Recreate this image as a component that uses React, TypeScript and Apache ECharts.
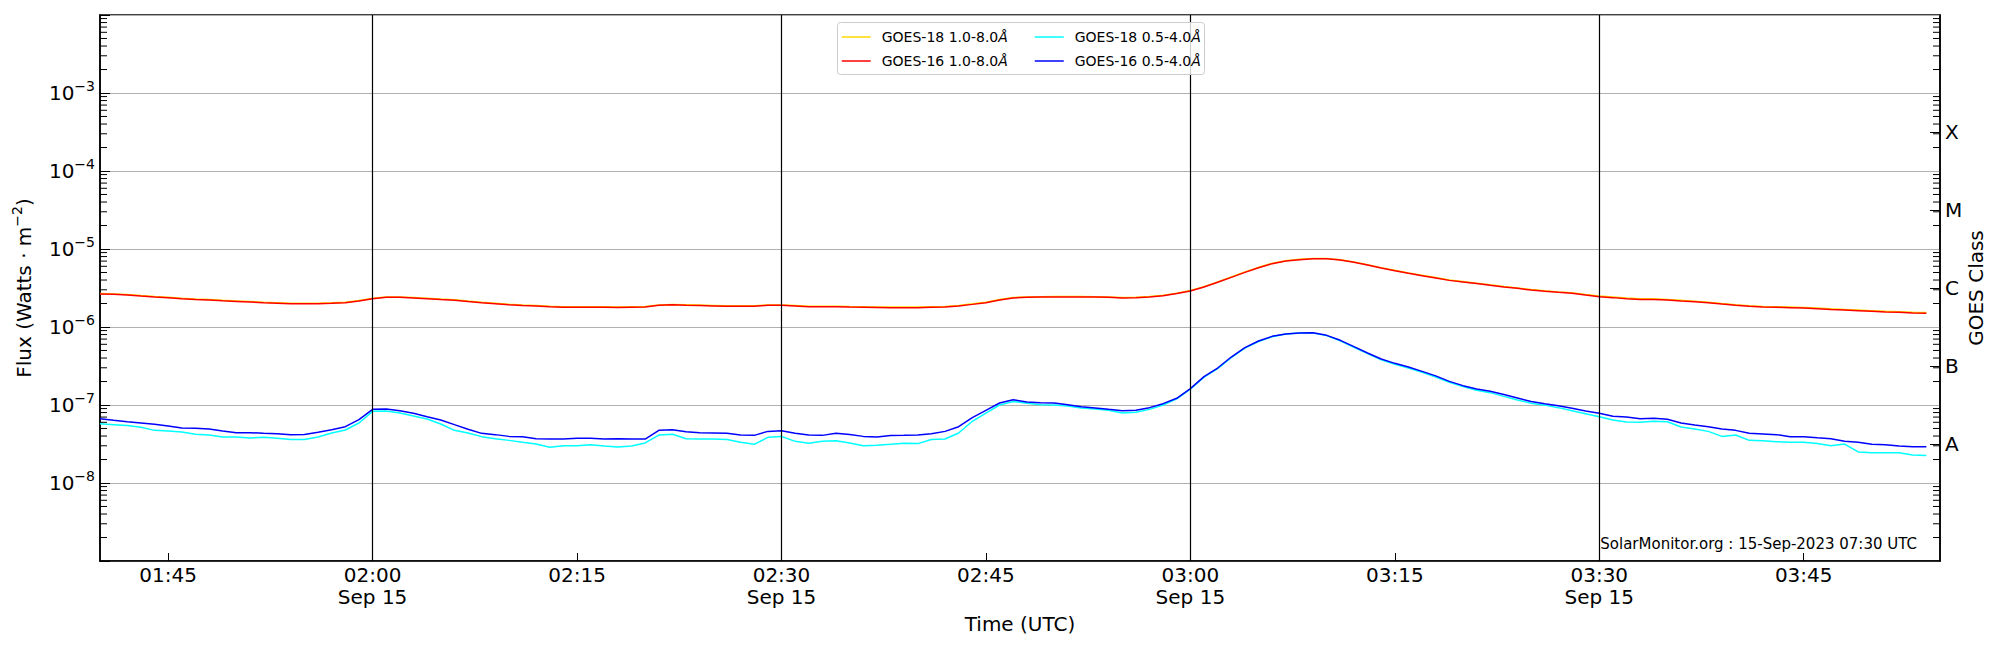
import React, { useEffect, useRef } from "react";
import * as echarts from "echarts";

const FONT = "DejaVu Sans";
const START_MINUTE = 100; // 01:40 UTC
const END_MINUTE = 235; // 03:55 UTC
const DATE_LABEL = "Sep 15";
const FOOTER_TEXT = "SolarMonitor.org : 15-Sep-2023 07:30 UTC";

const pad = (n: number) => String(n).padStart(2, "0");
const TIME_CATEGORIES: string[] = [];
for (let m = START_MINUTE; m <= END_MINUTE; m++) {
  TIME_CATEGORIES.push(`${pad(Math.floor(m / 60))}:${pad(m % 60)}`);
}

const VERTICAL_LINE_TIMES = ["02:00", "02:30", "03:00", "03:30"];
const Y_LABEL_EXPONENTS = [-8, -7, -6, -5, -4, -3];
const MINOR_MULTIPLIERS = [2, 3, 4, 5, 6, 7, 8, 9];
const MINOR_DECADES = [-9, -8, -7, -6, -5, -4, -3];
const CLASS_POSITIONS = ["-9", "-8.5", "-8", "-7.5", "-7", "-6.5", "-6", "-5.5", "-5", "-4.5", "-4", "-3.5", "-3", "-2.5", "-2"];
const CLASS_LABELS: Record<string, string> = { "-7.5": "A", "-6.5": "B", "-5.5": "C", "-4.5": "M", "-3.5": "X" };

const NAME_G18_LONG = "GOES-18 1.0-8.0Å";
const NAME_G16_LONG = "GOES-16 1.0-8.0Å";
const NAME_G18_SHORT = "GOES-18 0.5-4.0Å";
const NAME_G16_SHORT = "GOES-16 0.5-4.0Å";

const LONG_UNIT = 1e-6;
const SHORT_UNIT = 1e-8;

// one value per minute from 01:40 to 03:54, in units of 1e-6 W/m^2
const GOES18_LONG = [
  2.69, 2.65, 2.61, 2.53, 2.46, 2.40, 2.34, 2.29, 2.25, 2.20,
  2.16, 2.12, 2.08, 2.05, 2.02, 2.02, 2.02, 2.04, 2.08, 2.19,
  2.34, 2.43, 2.43, 2.39, 2.34, 2.28, 2.23, 2.15, 2.08, 2.02,
  1.96, 1.92, 1.89, 1.85, 1.82, 1.82, 1.82, 1.82, 1.81, 1.82,
  1.83, 1.92, 1.95, 1.93, 1.91, 1.89, 1.87, 1.87, 1.87, 1.92,
  1.92, 1.89, 1.85, 1.85, 1.85, 1.83, 1.82, 1.81, 1.80, 1.80,
  1.80, 1.82, 1.83, 1.89, 1.98, 2.08, 2.25, 2.39, 2.43, 2.45,
  2.46, 2.46, 2.46, 2.45, 2.43, 2.39, 2.40, 2.46, 2.55, 2.71,
  2.93, 3.29, 3.78, 4.38, 5.07, 5.82, 6.55, 7.09, 7.37, 7.58,
  7.58, 7.30, 6.82, 6.30, 5.77, 5.33, 4.94, 4.61, 4.30, 4.01,
  3.83, 3.65, 3.47, 3.31, 3.17, 3.02, 2.91, 2.82, 2.74, 2.61,
  2.49, 2.42, 2.35, 2.30, 2.30, 2.26, 2.20, 2.14, 2.08, 2.00,
  1.93, 1.87, 1.83, 1.82, 1.80, 1.78, 1.75, 1.71, 1.68, 1.65,
  1.62, 1.59, 1.57, 1.54, 1.53,
];

const GOES16_LONG = [
  2.65, 2.62, 2.58, 2.50, 2.43, 2.37, 2.31, 2.26, 2.22, 2.17,
  2.13, 2.09, 2.05, 2.02, 1.99, 1.99, 1.99, 2.01, 2.05, 2.16,
  2.31, 2.40, 2.40, 2.36, 2.31, 2.25, 2.20, 2.12, 2.05, 1.99,
  1.93, 1.89, 1.86, 1.82, 1.79, 1.79, 1.79, 1.79, 1.78, 1.79,
  1.80, 1.90, 1.93, 1.90, 1.88, 1.86, 1.84, 1.84, 1.84, 1.90,
  1.90, 1.86, 1.82, 1.82, 1.82, 1.80, 1.79, 1.78, 1.77, 1.77,
  1.77, 1.79, 1.80, 1.86, 1.95, 2.05, 2.22, 2.36, 2.40, 2.42,
  2.43, 2.43, 2.43, 2.42, 2.40, 2.36, 2.37, 2.43, 2.52, 2.68,
  2.90, 3.26, 3.74, 4.33, 5.02, 5.76, 6.49, 7.02, 7.30, 7.52,
  7.52, 7.23, 6.75, 6.24, 5.71, 5.27, 4.88, 4.55, 4.25, 3.96,
  3.78, 3.60, 3.42, 3.26, 3.13, 2.98, 2.87, 2.78, 2.70, 2.57,
  2.45, 2.38, 2.31, 2.26, 2.26, 2.22, 2.16, 2.11, 2.05, 1.97,
  1.90, 1.84, 1.80, 1.79, 1.77, 1.75, 1.72, 1.68, 1.65, 1.62,
  1.59, 1.56, 1.54, 1.51, 1.50,
];

// one value per minute from 01:40 to 03:54, in units of 1e-8 W/m^2
const GOES18_SHORT = [
  5.76, 5.60, 5.45, 5.18, 4.73, 4.64, 4.51, 4.21, 4.12, 3.89,
  3.89, 3.78, 3.85, 3.76, 3.60, 3.62, 3.89, 4.38, 4.78, 5.88,
  8.30, 8.38, 7.89, 7.23, 6.62, 5.71, 4.73, 4.38, 3.93, 3.70,
  3.52, 3.32, 3.16, 2.87, 3.01, 3.01, 3.10, 2.99, 2.90, 2.99,
  3.26, 4.12, 4.21, 3.70, 3.66, 3.66, 3.62, 3.32, 3.13, 3.85,
  3.96, 3.42, 3.23, 3.42, 3.49, 3.26, 3.01, 3.04, 3.13, 3.23,
  3.20, 3.62, 3.66, 4.38, 6.18, 7.89, 10.0, 11.1, 10.5, 10.1,
  10.0, 9.70, 9.16, 8.90, 8.55, 7.89, 8.05, 8.79, 10.0, 12.0,
  16.0, 22.8, 29.3, 40.5, 53.5, 65.2, 75.2, 81.3, 83.7, 84.0,
  77.5, 66.5, 55.0, 45.5, 38.0, 33.3, 29.8, 26.2, 22.8, 19.5,
  17.2, 15.5, 14.4, 12.9, 11.6, 10.5, 9.96, 9.25, 8.46, 7.74,
  7.08, 6.43, 6.05, 5.99, 6.18, 6.11, 5.22, 4.92, 4.59, 3.96,
  4.12, 3.52, 3.49, 3.39, 3.32, 3.32, 3.20, 3.01, 3.16, 2.50,
  2.45, 2.45, 2.45, 2.29, 2.25,
];

const GOES16_SHORT = [
  6.68, 6.36, 6.11, 5.88, 5.65, 5.38, 5.07, 5.02, 4.92, 4.64,
  4.42, 4.42, 4.33, 4.29, 4.17, 4.20, 4.46, 4.83, 5.27, 6.49,
  8.79, 8.90, 8.46, 7.82, 7.08, 6.43, 5.60, 4.88, 4.33, 4.17,
  3.96, 3.93, 3.70, 3.66, 3.66, 3.74, 3.74, 3.66, 3.70, 3.66,
  3.66, 4.73, 4.83, 4.55, 4.42, 4.38, 4.33, 4.12, 4.08, 4.59,
  4.69, 4.33, 4.12, 4.08, 4.33, 4.20, 3.96, 3.89, 4.05, 4.08,
  4.12, 4.29, 4.59, 5.27, 6.89, 8.55, 10.6, 11.7, 10.9, 10.7,
  10.6, 10.1, 9.52, 9.16, 8.79, 8.46, 8.55, 9.25, 10.4, 12.2,
  16.2, 23.1, 29.8, 41.2, 54.3, 66.2, 75.9, 81.3, 83.7, 84.5,
  78.2, 67.5, 56.0, 46.4, 38.9, 34.2, 30.7, 27.0, 23.6, 20.1,
  17.7, 16.0, 15.0, 13.6, 12.3, 11.1, 10.4, 9.80, 9.06, 8.38,
  7.82, 7.16, 7.02, 6.68, 6.75, 6.55, 5.88, 5.55, 5.27, 4.92,
  4.73, 4.33, 4.25, 4.17, 3.93, 3.93, 3.81, 3.70, 3.42, 3.32,
  3.13, 3.10, 2.99, 2.92, 2.92,
];

const COLOR_G18_LONG = "#FFD700";
const COLOR_G16_LONG = "#FF0000";
const COLOR_G18_SHORT = "#00FFFF";
const COLOR_G16_SHORT = "#0000FF";

const isQuarterHour = (index: number) => (START_MINUTE + index) % 15 === 0;

function buildOption() {
  const lastIndex = TIME_CATEGORIES.length - 1;
  const minorTicks: number[][] = [];
  MINOR_DECADES.forEach((e) => MINOR_MULTIPLIERS.forEach((k) => minorTicks.push([0, k * Math.pow(10, e)])));

  const lineSeries = (name: string, values: number[], unit: number, color: string, width: number) => ({
    type: "line",
    name,
    data: values.map((v) => v * unit),
    xAxisIndex: 0,
    yAxisIndex: 0,
    symbol: "none",
    showSymbol: false,
    color,
    lineStyle: { color, width },
    z: 2,
    silent: true,
  });

  const legendText = {
    fontFamily: FONT,
    fontSize: 14,
    color: "#000",
    padding: [0, 0, 0, 6],
    rich: {
      t: { fontFamily: FONT, fontSize: 14, lineHeight: 14, color: "#000" },
      i: { fontFamily: FONT, fontSize: 14, lineHeight: 14, fontStyle: "italic", color: "#000" },
    },
  };
  const legendFormatter = (name: string) => `{t|${name.slice(0, -1)}}{i|${name.slice(-1)}}`;
  const legendBase = {
    orient: "vertical",
    top: 30,
    itemWidth: 29,
    itemHeight: 14,
    itemGap: 10,
    padding: 0,
    selectedMode: false,
    textStyle: legendText,
    formatter: legendFormatter,
    itemStyle: { opacity: 0 },
    lineStyle: { width: 1.5 },
    z: 12,
  };

  return {
    animation: false,
    backgroundColor: "#ffffff",
    textStyle: { fontFamily: FONT },
    grid: {
      left: 100,
      right: 60,
      top: 15,
      bottom: 89,
      show: true,
      borderColor: "#000",
      borderWidth: 1.5,
      backgroundColor: "transparent",
    },
    legend: [
      { ...legendBase, left: 841, data: [NAME_G18_LONG, NAME_G16_LONG] },
      { ...legendBase, left: 1034, data: [NAME_G18_SHORT, NAME_G16_SHORT] },
    ],
    graphic: [
      {
        type: "rect",
        left: 837,
        top: 22,
        z: 10,
        silent: true,
        shape: { width: 367, height: 52, r: 3 },
        style: { fill: "rgba(255,255,255,0.8)", stroke: "#cccccc", lineWidth: 1 },
      },
      {
        type: "text",
        right: 83,
        top: 536,
        z: 10,
        silent: true,
        style: { text: FOOTER_TEXT, fontFamily: FONT, fontSize: 15, fill: "#000" },
      },
    ],
    xAxis: {
      type: "category",
      data: TIME_CATEGORIES,
      boundaryGap: false,
      axisLine: { show: true, onZero: false, lineStyle: { color: "#000", width: 1.5 } },
      axisTick: {
        show: true,
        inside: true,
        length: 8,
        interval: (i: number) => isQuarterHour(i),
        lineStyle: { color: "#000", width: 1 },
      },
      axisLabel: {
        interval: (i: number) => isQuarterHour(i),
        formatter: (v: string) => (v.endsWith(":00") || v.endsWith(":30") ? `${v}\n${DATE_LABEL}` : v),
        fontFamily: FONT,
        fontSize: 20,
        lineHeight: 22,
        color: "#000",
        margin: 3,
      },
      splitLine: { show: false },
      name: "Time (UTC)",
      nameLocation: "middle",
      nameGap: 53,
      nameMoveOverlap: false,
      nameTextStyle: { fontFamily: FONT, fontSize: 20, color: "#000" },
    },
    yAxis: [
      {
        type: "log",
        logBase: 10,
        min: 1e-9,
        max: 1e-2,
        splitNumber: 7,
        position: "left",
        axisLine: { show: true, lineStyle: { color: "#000", width: 1.5 } },
        axisTick: { show: true, inside: true, length: 10, lineStyle: { color: "#000", width: 1 } },
        minorTick: { show: false },
        axisLabel: {
          margin: 5,
          color: "#000",
          formatter: (v: number) => {
            const e = Math.round(Math.log10(v));
            return Y_LABEL_EXPONENTS.includes(e) ? `{b|10}{s|−${-e}}` : "";
          },
          rich: {
            b: { fontFamily: FONT, fontSize: 20, lineHeight: 28, color: "#000" },
            s: { fontFamily: FONT, fontSize: 14, lineHeight: 14, verticalAlign: "top", color: "#000" },
          },
        },
        splitLine: { show: true, lineStyle: { color: "#b0b0b0", width: 1 } },
        name: "{n|Flux (Watts · m}{s|−2}{n|)}",
        nameLocation: "middle",
        nameRotate: 90,
        nameGap: 62,
        nameMoveOverlap: false,
        nameTextStyle: {
          fontFamily: FONT,
          fontSize: 20,
          color: "#000",
          rich: {
            n: { fontFamily: FONT, fontSize: 20, lineHeight: 28, color: "#000" },
            s: { fontFamily: FONT, fontSize: 14, lineHeight: 14, verticalAlign: "top", color: "#000" },
          },
        },
      },
      {
        type: "category",
        position: "right",
        data: CLASS_POSITIONS,
        boundaryGap: false,
        axisLine: { show: true, onZero: false, lineStyle: { color: "#000", width: 1.5 } },
        axisTick: {
          show: true,
          inside: true,
          length: 10,
          interval: (_i: number, v: string) => v in CLASS_LABELS,
          lineStyle: { color: "#000", width: 1 },
        },
        axisLabel: {
          interval: (_i: number, v: string) => v in CLASS_LABELS,
          formatter: (v: string) => CLASS_LABELS[v] ?? "",
          fontFamily: FONT,
          fontSize: 20,
          color: "#000",
          margin: 5,
        },
        splitLine: { show: false },
        name: "GOES Class",
        nameLocation: "middle",
        nameRotate: 90,
        nameGap: 26,
        nameMoveOverlap: false,
        nameTextStyle: { fontFamily: FONT, fontSize: 20, color: "#000" },
      },
    ],
    series: [
      lineSeries(NAME_G18_LONG, GOES18_LONG, LONG_UNIT, COLOR_G18_LONG, 1.5),
      lineSeries(NAME_G16_LONG, GOES16_LONG, LONG_UNIT, COLOR_G16_LONG, 1.5),
      lineSeries(NAME_G18_SHORT, GOES18_SHORT, SHORT_UNIT, COLOR_G18_SHORT, 1.5),
      lineSeries(NAME_G16_SHORT, GOES16_SHORT, SHORT_UNIT, COLOR_G16_SHORT, 1.5),
      {
        type: "line",
        name: "vlines",
        data: [],
        symbol: "none",
        z: 3,
        silent: true,
        markLine: {
          silent: true,
          symbol: ["none", "none"],
          label: { show: false },
          lineStyle: { color: "#000", width: 1.2, type: "solid" },
          data: VERTICAL_LINE_TIMES.map((t) => ({ xAxis: t })),
        },
      },
      {
        type: "custom",
        name: "minorTicks",
        xAxisIndex: 0,
        yAxisIndex: 0,
        silent: true,
        clip: false,
        z: 4,
        data: minorTicks,
        renderItem: (_params: any, api: any) => {
          const v = api.value(1);
          const l = api.coord([0, v]);
          const r = api.coord([lastIndex, v]);
          const style = { stroke: "#000", lineWidth: 1 };
          return {
            type: "group",
            children: [
              { type: "line", shape: { x1: l[0], y1: l[1], x2: l[0] + 7, y2: l[1] }, style },
              { type: "line", shape: { x1: r[0] - 7, y1: r[1], x2: r[0], y2: r[1] }, style },
            ],
          };
        },
      },
    ],
  };
}

export default function App() {
  const ref = useRef<HTMLDivElement>(null);
  useEffect(() => {
    document.body.style.margin = "0";
    const chart = echarts.init(ref.current as HTMLDivElement, null, { renderer: "svg" });
    chart.setOption(buildOption() as any);
    return () => chart.dispose();
  }, []);
  return <div ref={ref} style={{ width: 2000, height: 650 }} />;
}
